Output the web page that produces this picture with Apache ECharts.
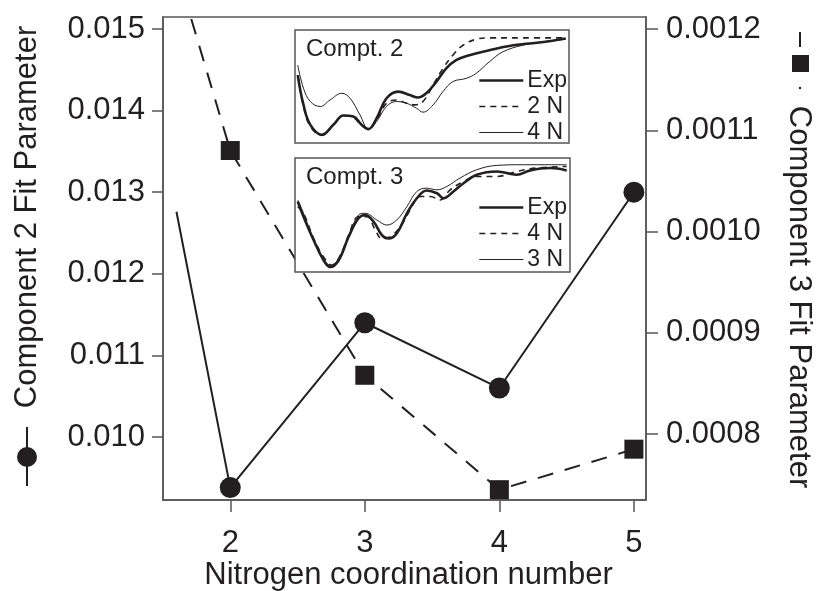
<!DOCTYPE html>
<html>
<head>
<meta charset="utf-8">
<script src="https://cdn.jsdelivr.net/npm/echarts@6/dist/echarts.min.js"></script>
<style>
  html, body { margin: 0; padding: 0; background: #fff; }
  #chart { width: 817px; height: 591px; }
</style>
</head>
<body>
<div id="chart"></div>
<script>
// main plot data
const xTicks = [2, 3, 4, 5];
const nitrogenN = [2, 3, 4, 5];
const comp2Lead = [1.6, 0.01276];
const comp2Values = [0.00938, 0.0114, 0.0106, 0.0130];
const comp3Lead = [1.71, 0.00121];
const comp3Values = [0.00108, 0.000858, 0.000745, 0.000785];
const leftTicks = [0.010, 0.011, 0.012, 0.013, 0.014, 0.015];
const rightTicks = [0.0008, 0.0009, 0.0010, 0.0011, 0.0012];

// inset spectra (arbitrary units, 0-100)
const c2Exp = [[1.0,60.1],[3.1,33.7],[5.6,16.1],[9.8,7.3],[14.0,16.1],[17.7,24.3],[21.3,23.5],[24.3,16.1],[26.8,12.3],[29.8,22.0],[33.4,39.6],[37.7,45.5],[41.9,42.5],[44.9,40.2],[47.9,44.0],[51.6,54.3],[55.2,66.0],[58.8,73.3],[63.7,77.7],[70.9,82.1],[78.2,85.9],[85.5,88.0],[92.7,90.0],[98.8,92.4]];
const c2N2 = [[1.0,60.1],[3.1,32.3],[5.6,14.7],[9.8,6.7],[14.0,16.1],[17.7,24.3],[21.3,22.6],[24.3,15.5],[26.8,12.3],[29.8,20.5],[33.4,35.2],[37.0,38.1],[40.7,35.2],[43.7,33.7],[46.7,36.7],[50.4,51.3],[54.0,66.0],[57.6,77.7],[61.3,86.5],[66.1,91.8],[70.9,93.0],[83.1,93.0],[98.8,93.0]];
const c2N4 = [[1.0,68.9],[3.1,48.4],[5.6,36.7],[9.2,32.3],[12.8,38.1],[17.1,44.0],[20.1,39.6],[23.7,24.9],[26.8,12.6],[29.8,19.1],[33.4,32.3],[37.0,36.7],[40.7,35.2],[44.3,30.8],[46.7,27.3],[50.4,33.7],[54.0,45.5],[57.6,54.3],[62.5,57.2],[66.1,61.6],[70.9,71.8],[75.8,80.6],[83.1,86.5],[90.3,89.4],[98.8,91.8]];
const c3Exp = [[1.0,61.8],[3.1,48.5],[6.8,27.9],[10.4,10.3],[12.8,4.4],[15.9,10.3],[19.5,30.9],[23.1,47.1],[25.5,50.0],[28.6,44.1],[31.6,32.4],[34.0,29.4],[37.0,33.8],[40.7,51.5],[44.3,64.7],[47.9,71.5],[51.6,69.1],[54.0,64.7],[57.6,70.6],[61.3,77.9],[66.1,85.3],[73.4,88.2],[80.6,85.3],[85.5,89.1],[92.7,91.2],[98.8,89.1]];
const c3N4 = [[1.0,57.4],[3.1,51.5],[6.8,29.4],[10.4,13.2],[13.4,5.9],[16.5,14.7],[19.5,32.4],[23.1,48.5],[26.2,48.5],[29.2,36.8],[31.6,29.4],[34.6,30.9],[38.3,39.7],[41.9,54.4],[45.5,66.2],[49.2,66.2],[52.8,63.2],[56.4,72.1],[61.3,79.4],[66.1,83.8],[73.4,83.8],[80.6,88.2],[87.9,91.2],[98.8,92.6]];
const c3N3 = [[1.0,63.2],[3.1,51.5],[6.8,27.9],[10.4,11.8],[12.8,5.9],[15.9,11.8],[19.5,30.9],[23.1,50.0],[25.5,51.5],[29.8,45.6],[33.4,41.2],[37.0,45.6],[40.7,57.4],[44.3,70.6],[47.9,73.5],[51.6,72.1],[55.2,75.0],[60.0,82.4],[66.1,89.7],[73.4,93.5],[83.1,94.1],[98.8,94.1]];

const FONT = 'Liberation Sans, Arial, sans-serif';
const INK = '#231f20';
const FRAME = '#555';
const THICK = { width: 2.6, type: 'solid' };
const DASH = { width: 1.6, type: [6, 5] };
const THIN = { width: 1, type: 'solid' };

const chart = echarts.init(document.getElementById('chart'));

const insetAxis = (gi) => ({ gridIndex: gi, type: 'value', min: 0, max: 100, show: false });
const insetLine = (name, data, gi, style) => ({
  name: name, type: 'line', xAxisIndex: gi, yAxisIndex: gi + 1, data: data,
  symbol: 'none', smooth: 0.4, z: 6, silent: true,
  itemStyle: { color: INK },
  lineStyle: { color: INK, width: style.width, type: style.type }
});
const insetLegend = (items, left, top) => ({
  data: items.map(([name, style]) => ({ name: name, lineStyle: { color: INK, width: style.width, type: style.type } })),
  orient: 'vertical', left: left, top: top,
  itemWidth: 44, itemHeight: 12, itemGap: 3, z: 7,
  selectedMode: false,
  itemStyle: { opacity: 0 },
  formatter: (n) => n.slice(3),
  textStyle: { fontFamily: FONT, fontSize: 23, color: INK, padding: [0, 0, 0, -1] }
});

const mainLine = (data, lead, yIdx, symbol, size, dash) => ({
  type: 'line', xAxisIndex: 0, yAxisIndex: yIdx, z: 2,
  data: [{ value: lead, symbol: 'none' }].concat(data.map((v, i) => [nitrogenN[i], v])),
  symbol: symbol, symbolSize: size,
  itemStyle: { color: INK },
  lineStyle: { color: INK, width: 2, type: dash }
});

const option = {
  animation: false,
  backgroundColor: '#fff',
  grid: [
    { left: 163, top: 17, width: 483, height: 483, show: true, borderColor: FRAME, borderWidth: 1.5, backgroundColor: 'transparent' },
    { left: 295, top: 30, width: 274, height: 113, show: true, borderColor: FRAME, borderWidth: 1.5, backgroundColor: '#fff', z: 4 },
    { left: 295, top: 158, width: 275, height: 114, show: true, borderColor: FRAME, borderWidth: 1.5, backgroundColor: '#fff', z: 4 }
  ],
  xAxis: [
    {
      gridIndex: 0, type: 'value', min: 1.5, max: 5.09,
      axisLine: { lineStyle: { color: FRAME, width: 1.5 } },
      axisTick: { customValues: xTicks, length: 12, lineStyle: { color: FRAME, width: 1.5 } },
      axisLabel: { customValues: xTicks, margin: 28, fontFamily: FONT, fontSize: 31, color: INK },
      splitLine: { show: false }
    },
    insetAxis(1),
    insetAxis(2)
  ],
  yAxis: [
    {
      gridIndex: 0, type: 'value', position: 'left', min: 0.009228, max: 0.015147,
      axisLine: { show: true, lineStyle: { color: FRAME, width: 1.5 } },
      axisTick: { customValues: leftTicks, length: 11, lineStyle: { color: FRAME, width: 1.5 } },
      axisLabel: { customValues: leftTicks, margin: 18, fontFamily: FONT, fontSize: 31, color: INK, formatter: (v) => v.toFixed(3) },
      splitLine: { show: false }
    },
    {
      gridIndex: 0, type: 'value', position: 'right', min: 0.0007348, max: 0.0012119,
      axisLine: { show: true, lineStyle: { color: FRAME, width: 1.5 } },
      axisTick: { customValues: rightTicks, length: 12, lineStyle: { color: FRAME, width: 1.5 } },
      axisLabel: { customValues: rightTicks, margin: 20, fontFamily: FONT, fontSize: 31, color: INK, formatter: (v) => v.toFixed(4) },
      splitLine: { show: false }
    },
    insetAxis(1),
    insetAxis(2)
  ],
  legend: [
    insetLegend([['c2-Exp', THICK], ['c2-2 N', DASH], ['c2-4 N', THIN]], 473, 64),
    insetLegend([['c3-Exp', THICK], ['c3-4 N', DASH], ['c3-3 N', THIN]], 473, 191)
  ],
  series: [
    mainLine(comp2Values, comp2Lead, 0, 'circle', 21, 'solid'),
    mainLine(comp3Values, comp3Lead, 1, 'rect', 19, [16, 12]),
    insetLine('c2-Exp', c2Exp, 1, THICK),
    insetLine('c2-2 N', c2N2, 1, DASH),
    insetLine('c2-4 N', c2N4, 1, THIN),
    insetLine('c3-Exp', c3Exp, 2, THICK),
    insetLine('c3-4 N', c3N4, 2, DASH),
    insetLine('c3-3 N', c3N3, 2, THIN)
  ],
  graphic: [
    { type: 'text', left: 'center', top: 560, style: { text: 'Nitrogen coordination number', fontFamily: FONT, fontSize: 31, fill: INK } },
    { type: 'text', x: 27, y: 217, rotation: Math.PI / 2, style: { text: 'Component 2 Fit Parameter', fontFamily: FONT, fontSize: 31, fill: INK, align: 'center', verticalAlign: 'middle' } },
    { type: 'text', x: 799, y: 297, rotation: -Math.PI / 2, style: { text: 'Component 3 Fit Parameter', fontFamily: FONT, fontSize: 31, fill: INK, align: 'center', verticalAlign: 'middle' } },
    { type: 'line', shape: { x1: 27, y1: 427, x2: 27, y2: 486 }, style: { stroke: INK, lineWidth: 2 } },
    { type: 'circle', shape: { cx: 27, cy: 457, r: 10 }, style: { fill: INK } },
    { type: 'line', shape: { x1: 800, y1: 32, x2: 800, y2: 47 }, style: { stroke: INK, lineWidth: 2 } },
    { type: 'rect', shape: { x: 792, y: 55, width: 17, height: 17 }, style: { fill: INK } },
    { type: 'circle', shape: { cx: 800, cy: 88, r: 1.2 }, style: { fill: INK } },
    { type: 'text', left: 306, top: 37, z: 8, style: { text: 'Compt. 2', fontFamily: FONT, fontSize: 24, fill: INK } },
    { type: 'text', left: 306, top: 165, z: 8, style: { text: 'Compt. 3', fontFamily: FONT, fontSize: 24, fill: INK } }
  ]
};

chart.setOption(option);
</script>
</body>
</html>
